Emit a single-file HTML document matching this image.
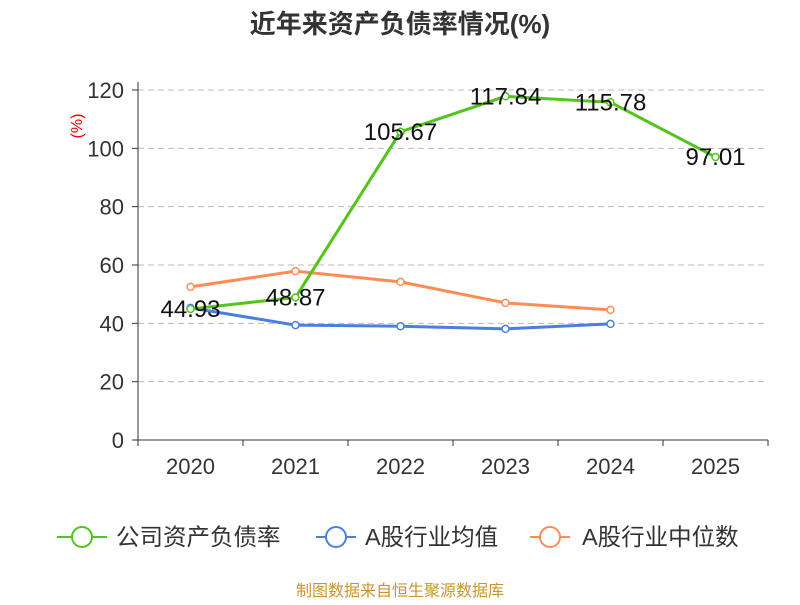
<!DOCTYPE html>
<html><head><meta charset="utf-8"><style>
body{margin:0;background:#fff;font-family:"Liberation Sans","Noto Sans CJK SC",sans-serif;}
</style></head><body>
<svg id="c" width="800" height="600" xmlns="http://www.w3.org/2000/svg">
<text x="400" y="33" text-anchor="middle" font-size="26" font-weight="bold" fill="#333">近年来资产负债率情况(%)</text>
<text transform="translate(82,126) rotate(-90)" text-anchor="middle" font-size="16" fill="#e00">(%)</text>
<g id="grid"></g><g id="axes"></g><g id="series"></g><g id="labels"></g>
<g font-size="23.5" fill="#333">
<g><line x1="57" y1="537" x2="107" y2="537" stroke="#52c41a" stroke-width="2"/><circle cx="82" cy="537" r="10" fill="#fff" stroke="#52c41a" stroke-width="2"/><text x="116" y="545">公司资产负债率</text></g>
<g><line x1="316" y1="537" x2="356" y2="537" stroke="#4a7fe0" stroke-width="2"/><circle cx="336" cy="537" r="10" fill="#fff" stroke="#4a7fe0" stroke-width="2"/><text x="365" y="545">A股行业均值</text></g>
<g><line x1="530" y1="537" x2="570" y2="537" stroke="#ff8c55" stroke-width="2"/><circle cx="550" cy="537" r="10" fill="#fff" stroke="#ff8c55" stroke-width="2"/><text x="582" y="545">A股行业中位数</text></g>
</g>
<text x="400" y="596" text-anchor="middle" font-size="16" fill="#c8962a">制图数据来自恒生聚源数据库</text>
</svg>
<script>
const categories=["2020","2021","2022","2023","2024","2025"];
const companyVals=[44.93,48.87,105.67,117.84,115.78,97.01];
const avgVals=[45.3,39.4,39.0,38.1,39.8];
const medianVals=[52.5,57.9,54.2,47.0,44.6];
const yTicks=[0,20,40,60,80,100,120];
const NS="http://www.w3.org/2000/svg";
const x0=138,x1=768,y0=440,y1=90,bw=(x1-x0)/categories.length;
const X=i=>x0+bw*(i+0.5), Y=v=>y0-(v/120)*(y0-y1);
function mk(t,a,p){const e=document.createElementNS(NS,t);for(const k in a)e.setAttribute(k,a[k]);p.appendChild(e);return e;}
const grid=document.getElementById('grid'),axes=document.getElementById('axes'),ser=document.getElementById('series'),lab=document.getElementById('labels');
yTicks.forEach(v=>{
 if(v>0){const g=mk('line',{x1:x0,x2:x1,y1:Y(v),y2:Y(v),stroke:'#bbb','stroke-dasharray':'6,4'},grid);
 
 }
 const t=mk('text',{x:x0-14,y:Y(v)+8,'text-anchor':'end','font-size':22,fill:'#333'},axes);t.textContent=v;
 
 
 const tk=mk('line',{x1:x0-6,x2:x0,y1:Y(v),y2:Y(v),stroke:'#333'},axes);
 
 
});
const ya=mk('line',{x1:x0,x2:x0,y1:y1-8,y2:y0,stroke:'#333'},axes);


const xa=mk('line',{x1:x0,x2:x1,y1:y0,y2:y0,stroke:'#333'},axes);


categories.forEach((c,i)=>{
 const tk=mk('line',{x1:x0+bw*i,x2:x0+bw*i,y1:y0,y2:y0+6,stroke:'#333'},axes);
 
 
 const t=mk('text',{x:X(i),y:y0+34,'text-anchor':'middle','font-size':22,fill:'#333'},axes);t.textContent=c;
 
 
});
const tk2=mk('line',{x1:x1,x2:x1,y1:y0,y2:y0+6,stroke:'#333'},axes);


function line(vals,col,name){
 const pl=mk('polyline',{points:vals.map((v,i)=>X(i)+','+Y(v)).join(' '),fill:'none',stroke:col,'stroke-width':3},ser);
 
 
 vals.forEach((v,i)=>{const c=mk('circle',{cx:X(i),cy:Y(v),r:3.5,fill:'#fff',stroke:col,'stroke-width':1.5},ser);
 
 });
}
line(medianVals,'#ff8c55','industry-median');
line(avgVals,'#4a7fe0','industry-avg');
line(companyVals,'#52c41a','company');
companyVals.forEach((v,i)=>{const t=mk('text',{x:X(i),y:Y(v)+8,'text-anchor':'middle','font-size':24,fill:'#111'},lab);t.textContent=v.toFixed(2);
 
 });
</script>
</body></html>
